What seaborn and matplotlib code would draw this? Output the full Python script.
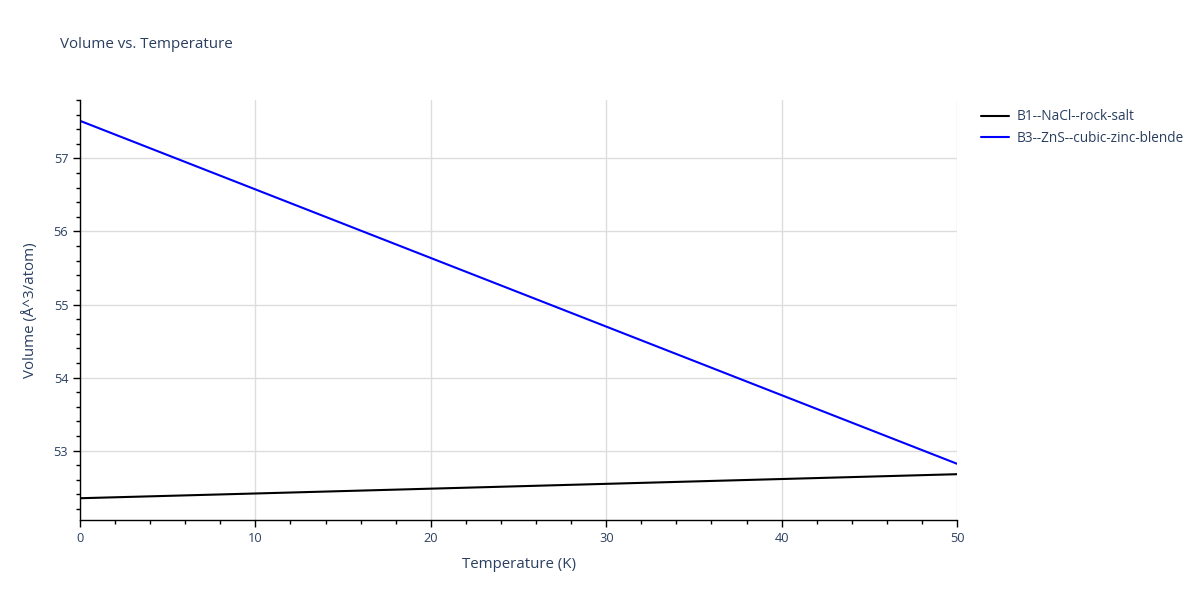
import matplotlib
matplotlib.use("Agg")
import matplotlib.pyplot as plt
import seaborn as sns
import pandas as pd
from matplotlib.ticker import MultipleLocator

temperature = [0, 10, 20, 30, 40, 50]
b1_volume = [52.348, 52.413, 52.479, 52.545, 52.611, 52.677]
b3_volume = [57.515, 56.576, 55.637, 54.698, 53.759, 52.820]
series_names = ["B1--NaCl--rock-salt", "B3--ZnS--cubic-zinc-blende"]
series_colors = ["#000000", "#0000ff"]

df = pd.concat([
    pd.DataFrame({"T": temperature, "V": b1_volume, "phase": series_names[0]}),
    pd.DataFrame({"T": temperature, "V": b3_volume, "phase": series_names[1]}),
])

sns.set_style("white")
plt.rcParams["font.family"] = ["Open Sans", "DejaVu Sans"]
text_color = "#2a3f5f"

fig = plt.figure(figsize=(12, 6), dpi=100)
ax = fig.add_axes([80/1200, 1-520/600, (957-80)/1200, 420/600])
sns.lineplot(data=df, x="T", y="V", hue="phase", palette=dict(zip(series_names, series_colors)),
             linewidth=1.5, ax=ax, legend=True)

ax.set_xlim(0, 50)
ax.set_ylim(52.05, 57.80)
ax.xaxis.set_major_locator(MultipleLocator(10))
ax.xaxis.set_minor_locator(MultipleLocator(2))
ax.yaxis.set_major_locator(MultipleLocator(1))
ax.yaxis.set_minor_locator(MultipleLocator(0.2))
ax.grid(True, which="major", color="#dddddd", linewidth=1)
ax.set_axisbelow(True)
for s in ["top", "right"]:
    ax.spines[s].set_visible(False)
for s in ["left", "bottom"]:
    ax.spines[s].set_color("#000000")
    ax.spines[s].set_linewidth(1)
ax.tick_params(axis="both", which="major", direction="out", length=5, width=1, color="#000000",
               labelcolor=text_color, labelsize=9.2, left=True, bottom=True)
ax.tick_params(axis="both", which="minor", direction="out", length=3, width=1, color="#000000",
               left=True, bottom=True)
ax.set_xlabel("Temperature (K)", color=text_color, fontsize=10.8, labelpad=9)
ax.set_ylabel("Volume (Å^3/atom)", color=text_color, fontsize=10.8, labelpad=11)

fig.text(60/1200, 1-45/600, "Volume vs. Temperature", color=text_color, fontsize=10.9, va="center", ha="left")

leg = ax.legend(loc="upper left", bbox_to_anchor=(976/1200, 1-104/600), bbox_transform=fig.transFigure,
                frameon=False, fontsize=9.8, handlelength=2.0, handletextpad=0.6, labelspacing=0.45,
                borderaxespad=0)
for t in leg.get_texts():
    t.set_color(text_color)

fig.savefig("out.png", dpi=100)
